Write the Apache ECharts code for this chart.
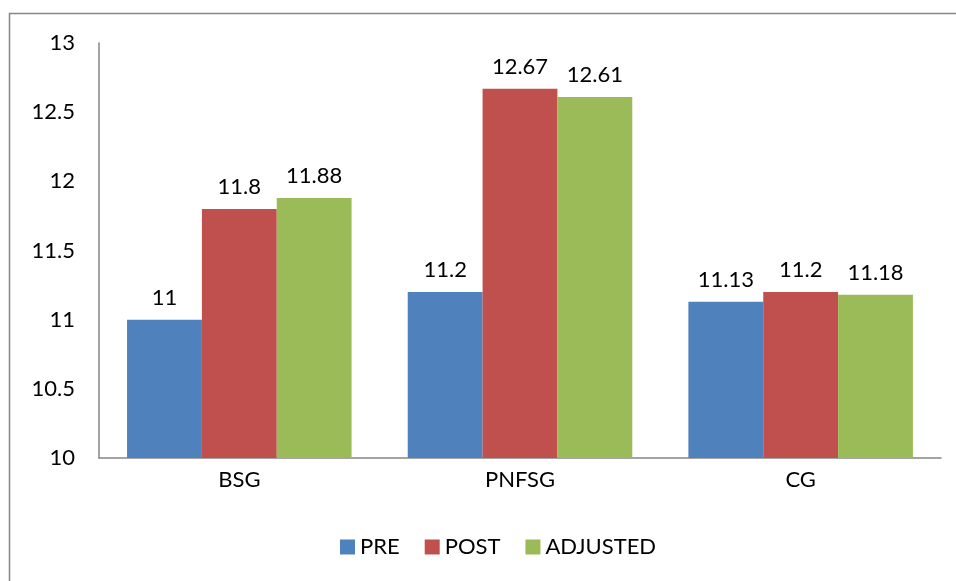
<!DOCTYPE html>
<html>
<head>
<meta charset="utf-8">
<script src="https://cdn.jsdelivr.net/npm/echarts@6/dist/echarts.min.js"></script>
<style>
  html, body { margin: 0; padding: 0; background: #fff; }
  #chart { width: 956px; height: 581px; }
</style>
</head>
<body>
<div id="chart"></div>
<script>
// chart data
var categories = ["BSG", "PNFSG", "CG"];
var preValues = [11, 11.2, 11.13];
var postValues = [11.8, 12.67, 11.2];
var adjustedValues = [11.88, 12.61, 11.18];

var font = "Lato, 'Open Sans', sans-serif";
var myChart = echarts.init(document.getElementById("chart"));

function makeSeries(name, data, color) {
  return {
    name: name,
    type: "bar",
    data: data,
    barGap: "0%",
    barCategoryGap: "20%",
    itemStyle: { color: color },
    label: {
      show: true,
      position: "top",
      distance: 11,
      color: "#000",
      fontFamily: font,
      fontSize: 22,
    },
  };
}

var option = {
  animation: false,
  graphic: [
    {
      type: "rect",
      shape: { x: 9.5, y: 13.5, width: 1000, height: 1000 },
      style: { fill: null, stroke: "#868686", lineWidth: 1.5 },
    },
  ],
  grid: { left: 99, right: 15, top: 43, bottom: 123 },
  legend: {
    bottom: 18,
    left: 335,
    itemWidth: 15,
    itemHeight: 15,
    itemGap: 25,
    icon: "rect",
    textStyle: { fontFamily: font, fontSize: 22, color: "#000" },
    data: ["PRE", "POST", "ADJUSTED"],
  },
  xAxis: {
    type: "category",
    data: categories,
    axisLine: { lineStyle: { color: "#868686", width: 1.5 } },
    axisTick: { show: false },
    axisLabel: { color: "#000", fontFamily: font, fontSize: 22, margin: 11 },
  },
  yAxis: {
    type: "value",
    min: 10,
    max: 13,
    interval: 0.5,
    axisLine: { show: true, lineStyle: { color: "#868686", width: 1.5 } },
    axisTick: { show: false },
    splitLine: { show: false },
    axisLabel: { color: "#000", fontFamily: font, fontSize: 22, margin: 24 },
  },
  series: [
    makeSeries("PRE", preValues, "#4F81BD"),
    makeSeries("POST", postValues, "#C0504D"),
    makeSeries("ADJUSTED", adjustedValues, "#9BBB59"),
  ],
};
myChart.setOption(option);
</script>
</body>
</html>
